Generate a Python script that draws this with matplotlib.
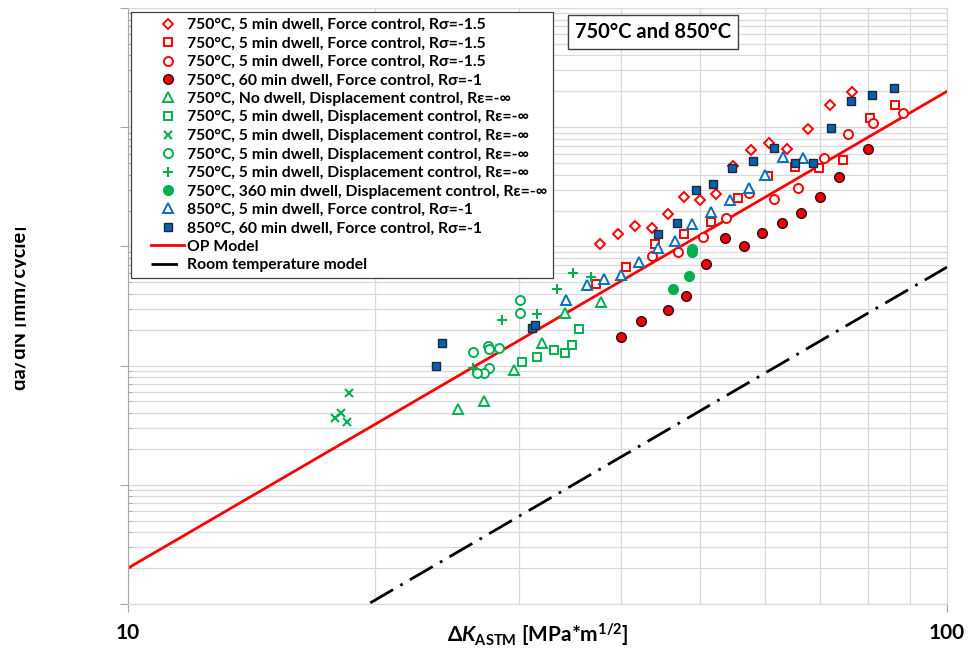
import matplotlib
matplotlib.use("Agg")
import matplotlib.pyplot as plt
from matplotlib.lines import Line2D
from matplotlib.legend_handler import HandlerLine2D
from matplotlib.ticker import NullFormatter
from matplotlib.transforms import Bbox
import numpy as np

plt.rcParams["font.family"] = ["Lato", "DejaVu Sans"]
plt.rcParams["mathtext.fontset"] = "custom"
plt.rcParams["mathtext.rm"] = "Lato:bold"
plt.rcParams["mathtext.it"] = "Lato:bold:italic"
plt.rcParams["mathtext.bf"] = "Lato:bold"
plt.rcParams["mathtext.fallback"] = "stixsans"

# crack growth data: dK [MPa*m^1/2], da/dN [mm/cycle]
dk_750_5min_a = [37.7, 39.6, 41.6, 43.6, 45.6, 47.7, 50.0, 52.3, 54.8, 57.7, 60.7, 63.8, 67.7, 71.9, 76.6]
da_750_5min_a = [1.04e-3, 1.26e-3, 1.49e-3, 1.44e-3, 1.86e-3, 2.61e-3, 2.45e-3, 2.75e-3, 4.73e-3, 6.44e-3,
                 7.33e-3, 6.56e-3, 9.62e-3, 1.535e-2, 1.99e-2]

dk_750_5min_b = [37.3, 40.6, 44.0, 47.7, 51.5, 55.5, 60.4, 65.2, 69.7, 74.7, 80.5, 86.3]
da_750_5min_b = [4.84e-4, 6.78e-4, 1.04e-3, 1.27e-3, 1.59e-3, 2.56e-3, 3.92e-3, 4.66e-3, 4.52e-3, 5.28e-3,
                 1.19e-2, 1.54e-2]

dk_750_5min_c = [43.6, 46.9, 50.3, 53.7, 57.3, 61.4, 65.8, 70.8, 75.8, 81.3, 88.4]
da_750_5min_c = [8.31e-4, 9.03e-4, 1.21e-3, 1.74e-3, 2.79e-3, 2.48e-3, 3.11e-3, 5.55e-3, 8.77e-3, 1.09e-2, 1.315e-2]

dk_750_60min = [40.0, 42.3, 45.6, 48.0, 50.8, 53.6, 56.5, 59.5, 62.8, 66.3, 70.0, 73.9, 80.0]
da_750_60min = [1.75e-4, 2.38e-4, 2.93e-4, 3.86e-4, 7.08e-4, 1.17e-3, 1.01e-3, 1.30e-3, 1.56e-3, 1.90e-3,
                2.61e-3, 3.84e-3, 6.53e-3]

dk_750_nodwell_disp = [25.3, 27.2, 29.6, 32.0, 34.2, 37.8]
da_750_nodwell_disp = [4.32e-5, 5.05e-5, 9.19e-5, 1.56e-4, 2.75e-4, 3.42e-4]

dk_750_5min_disp_sq = [30.3, 31.6, 33.1, 34.2, 34.8, 35.5]
da_750_5min_disp_sq = [1.07e-4, 1.18e-4, 1.35e-4, 1.27e-4, 1.48e-4, 2.04e-4]

dk_750_5min_disp_x = [18.6, 18.2, 17.9, 18.5]
da_750_5min_disp_x = [5.93e-5, 4.03e-5, 3.61e-5, 3.38e-5]

dk_750_5min_disp_o = [26.4, 27.5, 27.6, 28.4, 27.6, 27.2, 26.7, 30.1, 30.1]
da_750_5min_disp_o = [1.30e-4, 1.46e-4, 1.39e-4, 1.41e-4, 9.55e-5, 8.67e-5, 8.62e-5, 3.54e-4, 2.75e-4]

dk_750_5min_disp_p = [26.4, 28.6, 31.6, 33.4, 34.9, 36.8]
da_750_5min_disp_p = [9.46e-5, 2.41e-4, 2.72e-4, 4.37e-4, 6.04e-4, 5.57e-4]

dk_750_360min_disp = [46.3, 48.4, 48.8, 48.8]
da_750_360min_disp = [4.39e-4, 5.67e-4, 9.06e-4, 9.60e-4]

dk_850_5min = [34.3, 36.3, 38.1, 40.0, 42.1, 44.4, 46.6, 48.8, 51.5, 54.3, 57.3, 60.0, 63.0, 66.7]
da_850_5min = [3.55e-4, 4.70e-4, 5.28e-4, 5.70e-4, 7.36e-4, 9.64e-4, 1.11e-3, 1.53e-3, 1.93e-3, 2.45e-3,
               3.07e-3, 3.97e-3, 5.57e-3, 5.52e-3]

dk_850_60min = [23.8, 24.2, 31.1, 31.4, 44.4, 46.8, 49.4, 51.8, 54.7, 57.9, 61.5, 65.2, 68.6, 72.1, 76.3, 81.0, 86.1]
da_850_60min = [9.92e-5, 1.56e-4, 2.05e-4, 2.19e-4, 1.26e-3, 1.56e-3, 2.97e-3, 3.32e-3, 4.52e-3, 5.24e-3,
                6.73e-3, 5.04e-3, 5.01e-3, 9.79e-3, 1.66e-2, 1.85e-2, 2.15e-2]

# Paris-law models da/dN = C * dK^m
op_C, op_m = 2.0e-10, 4.0
rt_C, rt_m = 6.7e-12, 4.0
dk_model = np.array([10.0, 100.0])

red = "#ff0000"
green = "#00b050"
blue = "#0070c0"

series = [
    (dk_750_5min_a, da_750_5min_a, "750°C, 5 min dwell, Force control, Rσ=-1.5",
     dict(marker="D", ms=5.4, mfc="white", mec=red, mew=1.4)),
    (dk_750_5min_b, da_750_5min_b, "750°C, 5 min dwell, Force control, Rσ=-1.5",
     dict(marker="s", ms=6.2, mfc="white", mec=red, mew=1.4)),
    (dk_750_5min_c, da_750_5min_c, "750°C, 5 min dwell, Force control, Rσ=-1.5",
     dict(marker="o", ms=6.5, mfc="white", mec=red, mew=1.4)),
    (dk_750_60min, da_750_60min, "750°C, 60 min dwell, Force control, Rσ=-1",
     dict(marker="o", ms=7, mfc="#e8000b", mec="#3a0a0a", mew=1.0)),
    (dk_750_nodwell_disp, da_750_nodwell_disp, "750°C, No dwell, Displacement control, Rε=-∞",
     dict(marker="^", ms=6.5, mfc="white", mec=green, mew=1.4)),
    (dk_750_5min_disp_sq, da_750_5min_disp_sq, "750°C, 5 min dwell, Displacement control, Rε=-∞",
     dict(marker="s", ms=6.2, mfc="white", mec=green, mew=1.4)),
    (dk_750_5min_disp_x, da_750_5min_disp_x, "750°C, 5 min dwell, Displacement control, Rε=-∞",
     dict(marker="x", ms=6, mec=green, mew=1.5)),
    (dk_750_5min_disp_o, da_750_5min_disp_o, "750°C, 5 min dwell, Displacement control, Rε=-∞",
     dict(marker="o", ms=6.5, mfc="white", mec=green, mew=1.4)),
    (dk_750_5min_disp_p, da_750_5min_disp_p, "750°C, 5 min dwell, Displacement control, Rε=-∞",
     dict(marker="+", ms=7, mec=green, mew=1.5)),
    (dk_750_360min_disp, da_750_360min_disp, "750°C, 360 min dwell, Displacement control, Rε=-∞",
     dict(marker="o", ms=7, mfc=green, mec=green, mew=1.0)),
    (dk_850_5min, da_850_5min, "850°C, 5 min dwell, Force control, Rσ=-1",
     dict(marker="^", ms=6.5, mfc="white", mec=blue, mew=1.4)),
    (dk_850_60min, da_850_60min, "850°C, 60 min dwell, Force control, Rσ=-1",
     dict(marker="s", ms=6, mfc="#0a5fae", mec="#1c2a3a", mew=1.0)),
]

fig = plt.figure(figsize=(9.68, 6.48), dpi=100)
ax = fig.add_axes([128 / 968, 44 / 648, 819 / 968, 596 / 648])
ax.set_xscale("log")
ax.set_yscale("log")
ax.set_xlim(10, 100)
ax.set_ylim(1e-6, 1e-1)

ax.grid(True, which="both", color="#d9d9d9", lw=0.9, zorder=0)
ax.set_axisbelow(True)

for dk, da, label, style in series:
    ax.plot(dk, da, ls="none", label=label, zorder=3, **style)

ax.plot(dk_model, op_C * dk_model ** op_m, color=red, lw=2.0, label="OP Model", zorder=2)
ax.plot(dk_model, rt_C * dk_model ** rt_m, color="black", lw=2.0, ls=(0, (9.5, 3, 1, 3)),
        label="Room temperature model", zorder=2)

ax.set_xticks([10, 100], labels=["10", "100"])
ax.xaxis.set_minor_formatter(NullFormatter())
ax.yaxis.set_major_formatter(NullFormatter())
ax.yaxis.set_minor_formatter(NullFormatter())
for lbl in ax.get_xticklabels():
    lbl.set_fontsize(15)
    lbl.set_fontweight("bold")
ax.tick_params(axis="x", which="major", direction="out", length=6, color="#a6a6a6", pad=7.5)
ax.tick_params(axis="x", which="minor", length=0)
ax.tick_params(axis="y", which="major", direction="out", length=6, color="#a6a6a6")
ax.tick_params(axis="y", which="minor", direction="in", length=3, color="#a6a6a6")
for side, sp in ax.spines.items():
    sp.set_color("#a6a6a6" if side == "left" else "#d9d9d9")

leg = ax.legend(loc="upper left", bbox_to_anchor=(3 / 819, 1 - 4 / 596), borderaxespad=0,
                fancybox=False, framealpha=1, edgecolor="#404040",
                prop=dict(size=11.3, weight="bold"), labelspacing=0.28,
                handlelength=2.96, handletextpad=0.2, borderpad=0.4, numpoints=1,
                handler_map={Line2D: HandlerLine2D(xpad=0.9)})
leg.get_frame().set_linewidth(0.9)
leg.set_zorder(5)

ax.text((653 - 128) / 819, (604 - 32) / 596, "750°C and 850°C", transform=ax.transAxes,
        ha="center", va="center", fontsize=14.5, fontweight="bold", zorder=6,
        bbox=dict(boxstyle="square,pad=0.35", fc="white", ec="#404040", lw=1.0))

fig.text(538 / 968, 1 - 635 / 648, r"$\Delta K_{\mathrm{ASTM}}$ [MPa*m$^{1/2}$]",
         ha="center", va="center", fontsize=15, fontweight="bold")

ylab = fig.text(20 / 968, 1 - 308 / 648, "da/dN [mm/cycle]", rotation=90,
                ha="center", va="center", fontsize=14.5, fontweight="bold")
ylab.set_clip_on(True)
ylab.set_clip_box(Bbox.from_extents(15, 0, 25.5, 648))

fig.savefig("out.png", dpi=100)
